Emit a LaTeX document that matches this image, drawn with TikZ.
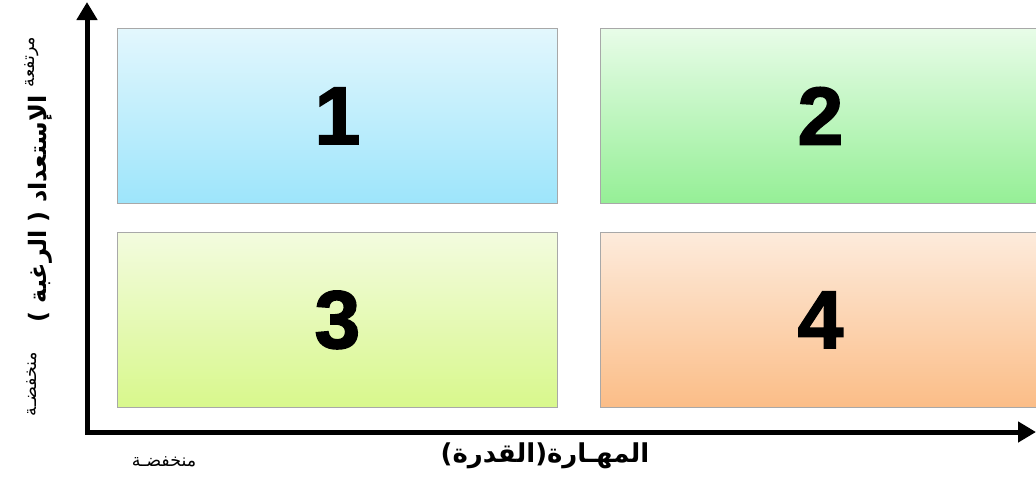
\documentclass[tikz,border=0pt]{standalone}
\usepackage{fontspec}
\setmainfont{Liberation Sans}[BoldFeatures={FakeBold=2}]
\newfontfamily\arabicfont[Script=Arabic]{DejaVu Sans}
\TeXXeTstate=1
\usetikzlibrary{arrows.meta}
\definecolor{bAt}{HTML}{E3F7FD}\definecolor{bAb}{HTML}{9DE5FB}
\definecolor{bBt}{HTML}{E8FCE8}\definecolor{bBb}{HTML}{95EF96}
\definecolor{bCt}{HTML}{F3FBDF}\definecolor{bCb}{HTML}{D8F88C}
\definecolor{bDt}{HTML}{FDEBDC}\definecolor{bDb}{HTML}{FBBD87}
\definecolor{edgegray}{HTML}{A8A8A8}
\tikzset{
  quad/.style={draw=edgegray, line width=0.8pt, minimum width=440pt, minimum height=175pt, inner sep=0pt, anchor=north west,
    font=\bfseries\fontsize{82}{90}\selectfont},
  axis/.style={line width=5pt, {Triangle[length=18pt,width=20pt]}-{Triangle[length=18pt,width=20pt]}},
  axlabel/.style={font=\arabicfont\bfseries\fontsize{24}{28}\selectfont, inner sep=0pt},
  smalllabel/.style={font=\arabicfont\fontsize{17.5}{20}\selectfont, inner sep=0pt}
}
\begin{document}
\begin{tikzpicture}[x=1pt,y=-1pt]
\useasboundingbox (0,0) rectangle (1036,480);
\node[quad, top color=bAt, bottom color=bAb] (q1) at (117,28) {1};
\node[quad, top color=bBt, bottom color=bBb, minimum width=445pt] (q2) at (600,28) {\hspace*{-5pt}2};
\node[quad, top color=bCt, bottom color=bCb] (q3) at (117,232) {3};
\node[quad, top color=bDt, bottom color=bDb, minimum width=445pt] (q4) at (600,232) {\hspace*{-5pt}4};
\coordinate (ytop) at (87,2);
\coordinate (origin) at (87,432);
\coordinate (xend) at (1036,432);
\draw[axis, line join=miter] (ytop) -- (origin) -- (xend);
\node[axlabel, rotate=90] (ylab) at (40,209) {\beginR الإستعداد ( الرغبة )\endR};
\node[smalllabel, rotate=90] (yhigh) at (32,62) {\beginR مرتفعة\endR};
\node[smalllabel, rotate=90] (ylow) at (32,384) {\beginR منخفضـة\endR};
\node[axlabel, font=\arabicfont\bfseries\fontsize{26}{28}\selectfont] (xlab) at (545,456) {\beginR المهـارة(القدرة)\endR};
\node[smalllabel] (xlow) at (164,462) {\beginR منخفضـة\endR};
\end{tikzpicture}
\end{document}
